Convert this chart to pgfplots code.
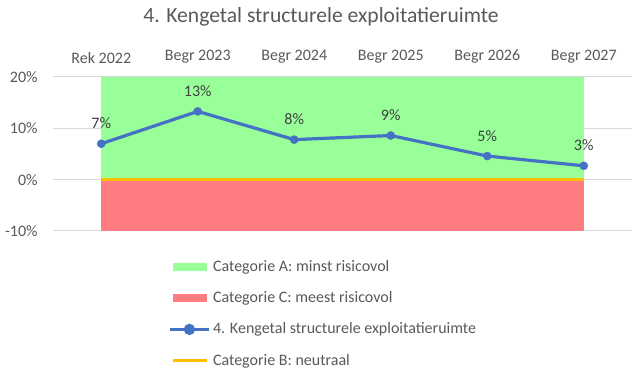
\documentclass[border=0pt]{standalone}
\usepackage{fontspec}
\setmainfont{Carlito}
\usepackage{pgfplots}
\pgfplotsset{compat=1.18}
\definecolor{txt}{HTML}{595959}
\definecolor{lbl}{HTML}{404040}
\definecolor{grn}{HTML}{99FF99}
\definecolor{rd}{HTML}{FF7C80}
\definecolor{blu}{HTML}{4472C4}
\definecolor{yel}{HTML}{FFC000}
\definecolor{grd}{HTML}{D9D9D9}
\begin{document}
\begin{tikzpicture}
\path[use as bounding box] (0,0) rectangle (478.5pt,277.5pt);
\node[text=txt, font=\fontsize{16.2}{19}\selectfont] at (240.75pt,264.75pt) {4. Kengetal structurele exploitatieruimte};
\begin{axis}[
  at={(39.75pt,104.25pt)}, anchor=south west,
  scale only axis, width=434.25pt, height=115.5pt,
  xmin=-0.5, xmax=5.5, ymin=-10, ymax=20,
  clip=false,
  axis line style={draw=none},
  major tick length=0pt,
  xtick={0,...,5},
  xticklabels={Rek 2022,Begr 2023,Begr 2024,Begr 2025,Begr 2026,Begr 2027},
  xticklabel pos=right,
  xticklabel style={yshift=6.5pt},
  ytick={-10,0,10,20},
  yticklabels={-10\%,0\%,10\%,20\%},
  yticklabel style={xshift=-8pt},
  ymajorgrids, grid style={grd, line width=0.75pt},
  tick label style={text=txt, font=\fontsize{12}{14}\selectfont},
  legend style={at={(axis description cs:0.199,-0.17)}, anchor=north west, draw=none, fill=none, inner sep=0pt, row sep=9.7pt, font=\fontsize{12}{14}\selectfont, text=txt},
  legend cell align=left,
]
\addplot[fill=grn, draw=none, legend image code/.code={\fill[grn] (0pt,-3pt) rectangle (26pt,3pt);}] coordinates {(0,20)(5,20)} \closedcycle;
\addlegendentry{Categorie A: minst risicovol}
\addplot[fill=rd, draw=none, legend image code/.code={\fill[rd] (0pt,-3pt) rectangle (26pt,3pt);}] coordinates {(0,-10)(5,-10)} \closedcycle;
\addlegendentry{Categorie C: meest risicovol}
\addplot[blu, line width=2.4pt, mark=*, mark size=3pt, mark options={fill=blu, draw=blu, line width=0.4pt},
  legend image code/.code={\draw[blu, line width=2.4pt] (-2pt,0pt) -- (27pt,0pt); \fill[blu] (12.5pt,0pt) circle (3pt);},
  nodes near coords={\pgfmathprintnumber[fixed,precision=0]{\pgfplotspointmeta}\%},
  every node near coord/.append style={text=lbl, font=\fontsize{12}{14}\selectfont, yshift=7.5pt, /pgf/number format/assume math mode=true}]
  coordinates {(0,7.0)(1,13.3)(2,7.8)(3,8.6)(4,4.6)(5,2.7)};
\addlegendentry{4. Kengetal structurele exploitatieruimte}
\addplot[yel, line width=2.4pt, no marks, legend image code/.code={\draw[yel, line width=2.4pt] (0pt,0pt) -- (26pt,0pt);}] coordinates {(0,0)(5,0)};
\addlegendentry{Categorie B: neutraal}
\end{axis}
\end{tikzpicture}
\end{document}
